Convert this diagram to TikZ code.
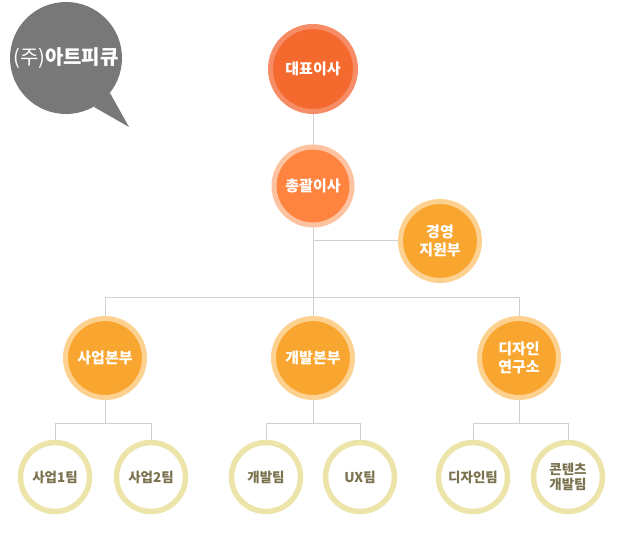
\documentclass[tikz,border=0pt]{standalone}
\usepackage{fontspec}
\newfontfamily\kr{Noto Sans CJK KR}
\usetikzlibrary{backgrounds}
\definecolor{lineC}{HTML}{D0D0D0}
\definecolor{bubbleC}{HTML}{787878}
\definecolor{ceoRing}{HTML}{F78D67}
\definecolor{ceoFill}{HTML}{F46A2E}
\definecolor{gmRing}{HTML}{FDC3A0}
\definecolor{gmFill}{HTML}{FE8440}
\definecolor{orRing}{HTML}{FDD291}
\definecolor{orFill}{HTML}{F9A630}
\definecolor{tmRing}{HTML}{EDE4A9}
\definecolor{tmText}{HTML}{7B7350}
\tikzset{
  base/.style={circle, inner sep=0pt, outer sep=0pt, align=center, font=\kr\bfseries\fontsize{15}{20}\selectfont},
  ceo/.style={base, minimum size=85pt, line width=5pt, draw=ceoRing, fill=ceoFill, text=white},
  gm/.style={base, minimum size=78pt, line width=5pt, draw=gmRing, fill=gmFill, text=white},
  div/.style={base, minimum size=79pt, line width=5pt, draw=orRing, fill=orFill, text=white},
  team/.style={base, minimum size=69pt, line width=5.5pt, draw=tmRing, fill=white, text=tmText, font=\kr\bfseries\fontsize{13.5}{18}\selectfont},
  conn/.style={draw=lineC, line width=1pt}
}
\begin{document}
\begin{tikzpicture}[x=1pt,y=-1pt]
\useasboundingbox (0,0) rectangle (624,540);
% bubble
\fill[bubbleC] (66,58) circle (56);
\fill[bubbleC] (94,107) -- (129,127) -- (110,93) -- cycle;
\node[text=white, inner sep=0pt] (logo) at (66,58) {\kr\fontsize{20}{22}\selectfont (주)\bfseries 아트피큐};
% nodes
\node[ceo] (ceo) at (313,69) {대표이사};
\node[gm] (gm) at (313,186) {총괄이사};
\node[div] (mgmt) at (440,241) {경영\\[-2pt]지원부};
\node[div] (biz) at (105,358) {사업본부};
\node[div] (dev) at (313,358) {개발본부};
\node[div] (des) at (519,358) {디자인\\[-2pt]연구소};
\node[team] (b1) at (55,477) {사업1팀};
\node[team] (b2) at (151,477) {사업2팀};
\node[team] (d1) at (266,477) {개발팀};
\node[team] (ux) at (360,477) {UX팀};
\node[team] (ds) at (473,477) {디자인팀};
\node[team] (ct) at (568,477) {콘텐츠\\[-3pt]개발팀};
\begin{scope}[on background layer]
\draw[conn] (ceo) -- (gm);
\draw[conn] (gm.center) -- (gm.center |- 0,297);
\draw[conn] (gm.center |- mgmt.center) -- (mgmt.center);
\draw[conn] (biz.center) -- (biz.center |- 0,297) -- (des.center |- 0,297) -- (des.center);
\draw[conn] (dev.center) -- (dev.center |- 0,297);
\draw[conn] (biz.center) -- (biz.center |- 0,423);
\draw[conn] (b1.center) -- (b1.center |- 0,423) -- (b2.center |- 0,423) -- (b2.center);
\draw[conn] (dev.center) -- (dev.center |- 0,423);
\draw[conn] (d1.center) -- (d1.center |- 0,423) -- (ux.center |- 0,423) -- (ux.center);
\draw[conn] (des.center) -- (des.center |- 0,423);
\draw[conn] (ds.center) -- (ds.center |- 0,423) -- (ct.center |- 0,423) -- (ct.center);
\end{scope}
\end{tikzpicture}
\end{document}
